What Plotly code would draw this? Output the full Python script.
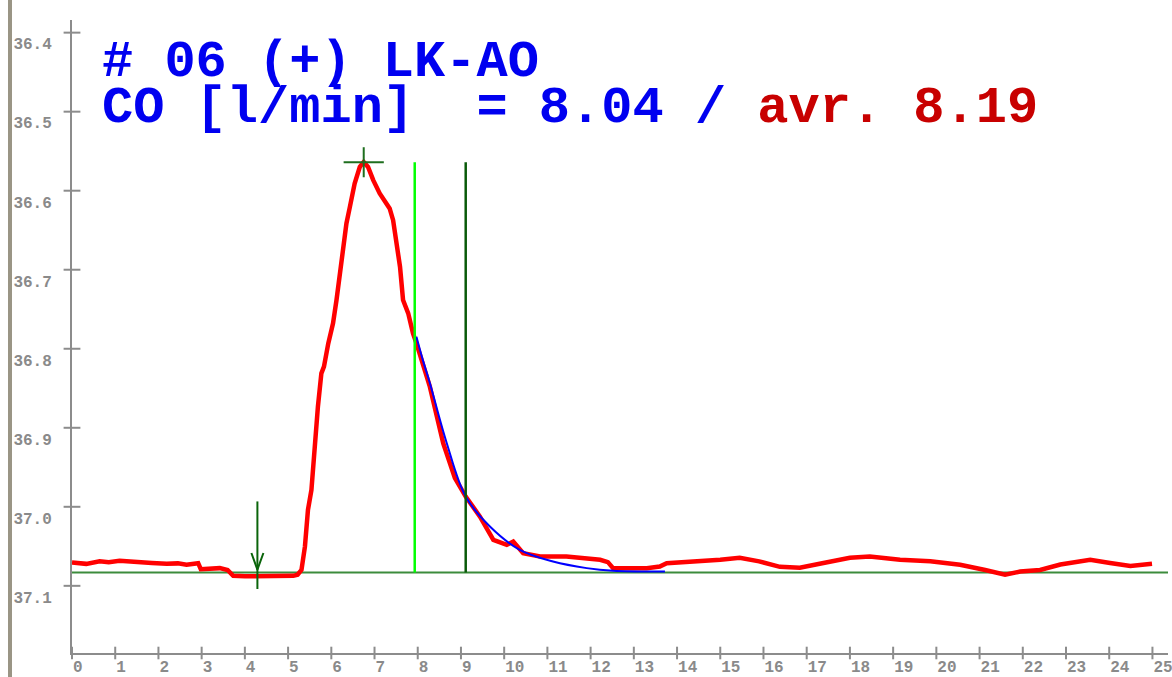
import plotly.graph_objects as go

# ---------------- data ----------------
x_tick_values = list(range(0, 26))
x_tick_labels = [str(v) for v in x_tick_values]
y_tick_values = [36.4, 36.5, 36.6, 36.7, 36.8, 36.9, 37.0, 37.1]
y_tick_labels = ["36.4", "36.5", "36.6", "36.7", "36.8", "36.9", "37.0", "37.1"]

time_min = [0.00, 0.33, 0.64, 0.85, 1.10, 1.35, 1.57, 1.85, 2.19, 2.45, 2.65, 2.92,
            2.98, 3.20, 3.42, 3.60, 3.73, 4.00, 4.35, 4.70, 5.12, 5.22, 5.31, 5.39,
            5.46, 5.54, 5.62, 5.69, 5.77, 5.83, 5.93, 6.04, 6.12, 6.20, 6.27, 6.35,
            6.43, 6.54, 6.66, 6.75, 6.85, 6.97, 7.12, 7.35, 7.43, 7.51, 7.59, 7.66,
            7.78, 7.89, 7.97, 8.28, 8.59, 8.86, 9.11, 9.44, 9.75, 10.06, 10.21, 10.44,
            10.83, 11.44, 11.75, 12.22, 12.40, 12.52, 13.30, 13.60, 13.76, 14.07, 14.53,
            15.00, 15.45, 15.90, 16.38, 16.84, 17.30, 18.00, 18.46, 19.16, 19.86, 20.55,
            21.13, 21.59, 21.94, 22.40, 22.87, 23.56, 24.02, 24.49, 24.99]
temp_c = [37.0705, 37.0722, 37.0690, 37.0700, 37.0684, 37.0697, 37.0705, 37.0712, 37.0722,
          37.0716, 37.0734, 37.0713, 37.0790, 37.0785, 37.0776, 37.0800, 37.0874, 37.0880,
          37.0882, 37.0878, 37.0874, 37.0860, 37.0798, 37.0503, 37.0039, 36.9786, 36.9154,
          36.8733, 36.8311, 36.8227, 36.7932, 36.7679, 36.7384, 36.7047, 36.6752, 36.6415,
          36.6205, 36.5909, 36.5699, 36.5636, 36.5699, 36.5867, 36.6035, 36.6225, 36.6373,
          36.6626, 36.6963, 36.7384, 36.7552, 36.7805, 36.7932, 36.8480, 36.9196, 36.9635,
          36.9871, 37.0124, 37.0418, 37.0482, 37.0440, 37.0587, 37.0629, 37.0629, 37.0646,
          37.0671, 37.0700, 37.0776, 37.0776, 37.0756, 37.0713, 37.0705, 37.0690, 37.0670,
          37.0646, 37.0690, 37.0760, 37.0770, 37.0720, 37.0646, 37.0630, 37.0670, 37.0690,
          37.0734, 37.0800, 37.0860, 37.0820, 37.0800, 37.0730, 37.0670, 37.0710, 37.0750,
          37.0720]

fit_time = [7.97, 8.12, 8.28, 8.67, 9.11, 9.67, 10.36, 11.13, 11.91, 12.52, 13.72]
fit_temp = [36.7848, 36.8147, 36.8434, 36.9192, 36.9871, 37.0250, 37.0545, 37.0693,
            37.0776, 37.0810, 37.0819]

baseline_temp = 37.083
injection_time = 4.29
peak_time = 6.75
peak_temp = 36.564
fit_start_time = 7.93
fit_end_time = 9.11

x_max = 25.36
y_bottom = 37.185
y_top = 36.384

title_line1 = "# 06 (+) LK-AO"
co_label = "CO [l/min]"
co_value = "8.04"
co_avg = "8.19"

# ---------------- styles ----------------
AXIS_GRAY = "#8c8c8c"
LABEL_GRAY = "#8a8a8a"
TICK_FONT = dict(family="Liberation Mono", size=16, color=LABEL_GRAY, weight="bold")

fig = go.Figure()

# baseline
fig.add_trace(go.Scatter(x=[0, x_max], y=[baseline_temp, baseline_temp], mode="lines",
                         line=dict(color="#3c8c3c", width=2), hoverinfo="skip"))
# measured curve
fig.add_trace(go.Scatter(x=time_min, y=temp_c, mode="lines",
                         line=dict(color="#ff0000", width=4.5)))
# fitted curve
fig.add_trace(go.Scatter(x=fit_time, y=fit_temp, mode="lines",
                         line=dict(color="#0000ff", width=2, shape="spline")))
# fit window markers
fig.add_trace(go.Scatter(x=[fit_start_time, fit_start_time], y=[peak_temp, baseline_temp],
                         mode="lines", line=dict(color="#00ff00", width=2.5)))
fig.add_trace(go.Scatter(x=[fit_end_time, fit_end_time], y=[peak_temp, baseline_temp],
                         mode="lines", line=dict(color="#0a5a0a", width=2.5)))
# peak crosshair
ch_dx, ch_dy = 0.465, 0.019
fig.add_trace(go.Scatter(
    x=[peak_time - ch_dx, peak_time + ch_dx, None, peak_time, peak_time],
    y=[peak_temp, peak_temp, None, peak_temp - ch_dy, peak_temp + ch_dy],
    mode="lines", line=dict(color="#1e6e1e", width=2)))
# injection arrow
ar_top, ar_bot, head_dx, head_dy, tip_dy = 0.0898, 0.021, 0.139, 0.0245, 0.0034
fig.add_trace(go.Scatter(
    x=[injection_time, injection_time, None,
       injection_time - head_dx, injection_time, injection_time + head_dx],
    y=[baseline_temp - ar_top, baseline_temp + ar_bot, None,
       baseline_temp - head_dy, baseline_temp - tip_dy, baseline_temp - head_dy],
    mode="lines", line=dict(color="#0a640a", width=2)))
# tick marks crossing the axes
fig.add_trace(go.Scatter(x=[0] * len(y_tick_values), y=y_tick_values, mode="markers",
                         marker=dict(symbol="line-ew", size=12,
                                     line=dict(color=AXIS_GRAY, width=2)),
                         cliponaxis=False, hoverinfo="skip"))
fig.add_trace(go.Scatter(x=x_tick_values, y=[y_bottom] * len(x_tick_values), mode="markers",
                         marker=dict(symbol="line-ns", size=9,
                                     line=dict(color=AXIS_GRAY, width=2)),
                         cliponaxis=False, hoverinfo="skip"))

PW, PH, ML, MT = 1096, 633, 72, 20

def px_x(px):
    return (px - ML) / PW

def px_y(py):
    return (MT + PH - py) / PH

title_font = dict(family="Liberation Mono", size=52, color="#0000f0", weight="bold")
fig.add_annotation(text=title_line1, xref="paper", yref="paper", x=px_x(100), y=px_y(63),
                   xanchor="left", yanchor="middle", showarrow=False, font=title_font)
line2 = (co_label.replace(" ", "\u00a0") + "\u00a0\u00a0=\u00a0" + co_value + "\u00a0/\u00a0"
         + '<span style="color:#c80000">avr.\u00a0' + co_avg + "</span>")
fig.add_annotation(text=line2, xref="paper", yref="paper", x=px_x(100), y=px_y(108),
                   xanchor="left", yanchor="middle", showarrow=False, font=title_font)

# left window border
fig.add_shape(type="line", xref="paper", yref="paper", x0=px_x(10), x1=px_x(10),
              y0=px_y(690), y1=px_y(-10), line=dict(color="#9a9585", width=4))

fig.update_layout(
    width=1172, height=677,
    margin=dict(l=ML, r=1172 - ML - PW, t=MT, b=677 - MT - PH),
    paper_bgcolor="white", plot_bgcolor="white",
    showlegend=False, hovermode=False,
    xaxis=dict(range=[0, x_max], showline=True, linecolor=AXIS_GRAY, linewidth=2,
               showgrid=False, zeroline=False, tickvals=x_tick_values, ticktext=x_tick_labels,
               ticks="", ticklabelposition="outside right", tickfont=TICK_FONT,
               ticklabelstandoff=-2, ticklabeloverflow="allow", automargin=False),
    yaxis=dict(range=[y_bottom, y_top], showline=True, linecolor=AXIS_GRAY, linewidth=2,
               showgrid=False, zeroline=False, tickvals=y_tick_values, ticktext=y_tick_labels,
               ticks="", ticklabelposition="outside bottom", tickfont=TICK_FONT,
               ticklabelstandoff=15, automargin=False),
)

fig.write_html("out.html", config={"displayModeBar": False},
               post_script="document.body.style.margin='0';document.body.style.overflow='hidden';")
